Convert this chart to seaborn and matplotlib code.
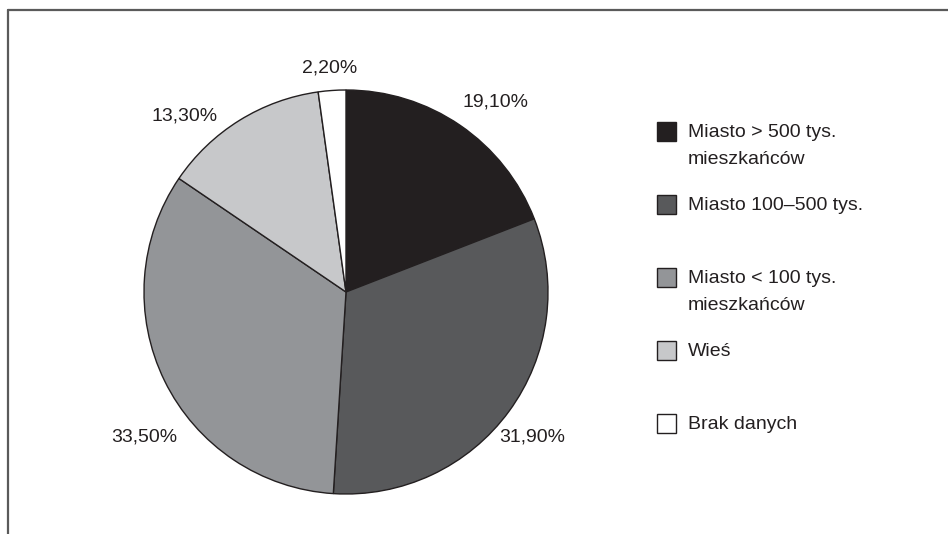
import matplotlib
matplotlib.use("Agg")
import matplotlib.pyplot as plt
from matplotlib.lines import Line2D
from matplotlib.patches import Rectangle
import seaborn as sns

categories = ["Miasto > 500 tys.\nmieszkańców", "Miasto 100–500 tys.",
              "Miasto < 100 tys.\nmieszkańców", "Wieś", "Brak danych"]
shares = [19.1, 31.9, 33.5, 13.3, 2.2]
colors = ["#231f20", "#58595b", "#939598", "#c7c8ca", "#ffffff"]

sns.set_style("white")
plt.rcParams["font.family"] = ["Liberation Sans", "DejaVu Sans"]

W, H = 948, 534
fig = plt.figure(figsize=(W / 100, H / 100), dpi=100)

# pie: centre (346, 292) px, radius 202 px -> axes box 2.5 * r
cx, cy, r = 346, 292, 202
side = 2.5 * r
ax = fig.add_axes([(cx - side / 2) / W, (H - cy - side / 2) / H, side / W, side / H])
wedges, texts, autotexts = ax.pie(
    shares, colors=colors, startangle=90, counterclock=False,
    autopct=lambda p: f"{p:.2f}%".replace(".", ","), pctdistance=1.19,
    wedgeprops=dict(edgecolor="#231f20", linewidth=1.0),
    textprops=dict(fontsize=14, color="#231f20"),
)

# percentage labels sit where the original put them (units of radius)
label_pos = [(0.74, 0.94), (0.92, -0.72), (-1.0, -0.72), (-0.80, 0.87), (-0.08, 1.11)]
for t, (x, y) in zip(autotexts, label_pos):
    t.set_position((x, y))

# frame lines (top and left)
fx = 7.5 / W
fy = (H - 9.5) / H
fig.add_artist(Line2D([fx, 1], [fy, fy], transform=fig.transFigure, color="#5a5a5a", lw=1.6))
fig.add_artist(Line2D([fx, fx], [0, fy], transform=fig.transFigure, color="#5a5a5a", lw=1.6))

# legend drawn by hand
sq = 19
y0, step = 122, 73
for i, (lab, col) in enumerate(zip(categories, colors)):
    top = y0 + i * step
    fig.add_artist(Rectangle((657 / W, (H - top - sq) / H), sq / W, sq / H,
                             transform=fig.transFigure, facecolor=col,
                             edgecolor="#231f20", lw=1.0))
    fig.text(688 / W, (H - top - 2) / H, lab, fontsize=14, color="#231f20",
             va="top", ha="left", linespacing=1.75)

fig.savefig("out.png", dpi=100)
